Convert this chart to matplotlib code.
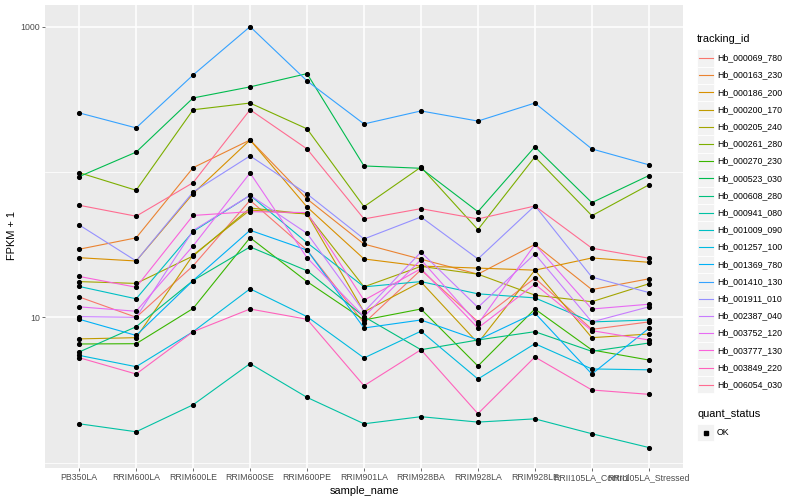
import matplotlib
matplotlib.use("Agg")
import matplotlib.pyplot as plt
from matplotlib.patches import Rectangle
from matplotlib.lines import Line2D

plt.rcParams['font.family'] = ['Liberation Sans', 'DejaVu Sans']

samples = ["PB350LA", "RRIM600LA", "RRIM600LE", "RRIM600SE", "RRIM600PE", "RRIM901LA",
           "RRIM928BA", "RRIM928LA", "RRIM928LE", "RRII105LA_Control", "RRII105LA_Stressed"]

tracking_ids = ["Hb_000069_780", "Hb_000163_230", "Hb_000186_200", "Hb_000200_170",
                "Hb_000205_240", "Hb_000261_280", "Hb_000270_230", "Hb_000523_030",
                "Hb_000608_280", "Hb_000941_080", "Hb_001009_090", "Hb_001257_100",
                "Hb_001369_780", "Hb_001410_130", "Hb_001911_010", "Hb_002387_040",
                "Hb_003752_120", "Hb_003777_130", "Hb_003849_220", "Hb_006054_030"]

colors = ["#F8766D", "#EA8331", "#D89000", "#C09B00", "#A3A500", "#7CAE00", "#39B600",
          "#00BB4E", "#00BF7D", "#00C1A3", "#00BFC4", "#00BAE0", "#00B0F6", "#35A2FF",
          "#9590FF", "#C77CFF", "#E76BF3", "#FA62DB", "#FF62BC", "#FF6C91"]

# FPKM + 1 per sample (order of `samples`)
hb_000069_780 = [13.8, 10.0, 22.6, 63.8, 29.0, 9.10, 21.2, 9.33, 18.6, 8.26, 9.29]
hb_000163_230 = [29.4, 35.2, 107, 166, 65.2, 31.9, 25.1, 19.8, 31.7, 15.5, 18.4]
hb_000186_200 = [25.7, 24.4, 71.0, 166, 57.4, 25.2, 22.5, 21.8, 21.1, 25.6, 23.9]
hb_000200_170 = [7.10, 7.24, 26.8, 54.7, 51.4, 10.9, 17.5, 6.65, 21.1, 7.24, 7.67]
hb_000205_240 = [17.6, 17.1, 26.4, 56.5, 51.4, 16.2, 22.4, 19.8, 14.2, 12.8, 17.0]
hb_000261_280 = [98.9, 74.8, 268, 298, 198, 57.7, 108, 40.1, 127, 50.0, 81.5]
hb_000270_230 = [6.55, 6.58, 11.5, 35.3, 17.6, 9.58, 11.4, 4.62, 11.4, 5.96, 5.08]
hb_000523_030 = [92.9, 137, 323, 385, 475, 110, 106, 53.3, 149, 61.5, 94.4]
hb_000608_280 = [5.77, 8.61, 17.9, 30.5, 20.9, 10.1, 5.98, 6.98, 7.96, 5.83, 6.65]
hb_000941_080 = [1.85, 1.63, 2.50, 4.80, 2.81, 1.85, 2.07, 1.90, 2.00, 1.58, 1.27]
hb_001009_090 = [16.3, 13.4, 38.9, 69.1, 32.6, 16.2, 17.6, 14.5, 13.6, 9.29, 9.58]
hb_001257_100 = [5.47, 4.57, 7.96, 15.7, 10.1, 5.25, 8.02, 3.76, 6.58, 4.41, 4.35]
hb_001369_780 = [9.69, 7.50, 17.9, 39.7, 29.0, 8.44, 9.58, 6.98, 10.7, 4.07, 8.39]
hb_001410_130 = [255, 201, 465, 1000, 423, 214, 263, 224, 298, 144, 112]
hb_001911_010 = [43.2, 24.4, 72.8, 129, 70.6, 34.6, 49.0, 25.2, 58.6, 18.9, 14.8]
hb_002387_040 = [10.1, 10.0, 39.5, 69.1, 37.8, 10.9, 28.1, 11.7, 27.3, 9.29, 11.8]
hb_003752_120 = [11.8, 11.0, 31.0, 98.4, 25.7, 10.1, 24.9, 8.99, 31.7, 11.4, 12.3]
hb_003777_130 = [19.1, 16.1, 50.2, 53.3, 52.5, 13.1, 21.6, 8.44, 16.9, 8.09, 6.98]
hb_003849_220 = [5.27, 4.07, 7.96, 11.4, 9.69, 3.38, 5.98, 2.17, 5.33, 3.16, 2.95]
hb_006054_030 = [59.0, 49.6, 84.4, 268, 144, 47.5, 55.9, 47.5, 58.3, 29.9, 25.5]

series = [hb_000069_780, hb_000163_230, hb_000186_200, hb_000200_170, hb_000205_240,
          hb_000261_280, hb_000270_230, hb_000523_030, hb_000608_280, hb_000941_080,
          hb_001009_090, hb_001257_100, hb_001369_780, hb_001410_130, hb_001911_010,
          hb_002387_040, hb_003752_120, hb_003777_130, hb_003849_220, hb_006054_030]

W, H = 800, 500
fig = plt.figure(figsize=(8, 5), dpi=100)
fig.patch.set_facecolor("white")

left, right, top, bottom = 45, 683, 5, 468
ax = fig.add_axes([left / W, 1 - bottom / H, (right - left) / W, (bottom - top) / H])
ax.set_facecolor("#EBEBEB")
for s in ax.spines.values():
    s.set_visible(False)
ax.set_yscale("log")
ax.set_ylim(0.918, 1409)
xs = list(range(len(samples)))
ax.set_xlim(-0.6, len(samples) - 1 + 0.6)

ax.set_xticks(xs)
ax.set_xticklabels(samples)
ax.set_yticks([10, 1000])
ax.set_yticklabels(["10", "1000"])
ax.set_yticks([1, 100], minor=True)
ax.yaxis.set_minor_formatter(plt.NullFormatter())
ax.tick_params(axis="both", which="major", length=2.0, width=0.5, color="#333333",
               labelsize=6.3, labelcolor="#4D4D4D", pad=1.6)
ax.tick_params(axis="y", which="minor", length=0)
ax.grid(which="major", color="white", lw=1.1)
ax.grid(which="minor", axis="y", color="white", lw=0.55)
ax.set_axisbelow(True)

for vals, col in zip(series, colors):
    ax.plot(xs, vals, color=col, lw=0.8, zorder=2)
for vals in series:
    ax.plot(xs, vals, ls="none", marker="o", ms=2.7, color="black", zorder=3)

fig.text((left + right) / 2 / W, 1 - 491 / H, "sample_name", ha="center", va="center",
         fontsize=7.9, color="black")
fig.text(12 / W, 1 - 236 / H, "FPKM + 1", ha="center", va="center", rotation=90,
         fontsize=7.9, color="black")

# legends (drawn in pixel space)
lax = fig.add_axes([0, 0, 1, 1])
lax.set_xlim(0, W)
lax.set_ylim(H, 0)
lax.axis("off")

lx = 697
lax.text(lx, 39, "tracking_id", fontsize=7.9, va="center", ha="left")
step = 17.2
for i, (tid, col) in enumerate(zip(tracking_ids, colors)):
    y = 58 + i * step
    lax.add_patch(Rectangle((lx, y - step / 2), 17.2, step, facecolor="#F2F2F2",
                            edgecolor="white", lw=0.6))
    lax.add_line(Line2D([lx + 1.7, lx + 15.5], [y, y], color=col, lw=0.8))
    lax.text(lx + 20, y, tid, fontsize=6.3, va="center", ha="left")

lax.text(lx, 414, "quant_status", fontsize=7.9, va="center", ha="left")
yk = 432.5
lax.add_patch(Rectangle((lx, yk - step / 2), 17.2, step, facecolor="#F2F2F2",
                        edgecolor="white", lw=0.6))
lax.add_line(Line2D([lx + 8.6], [yk], marker="s", ms=2.4, color="black", ls="none"))
lax.text(lx + 20, yk, "OK", fontsize=6.3, va="center", ha="left")

fig.savefig("out.png", dpi=100)
